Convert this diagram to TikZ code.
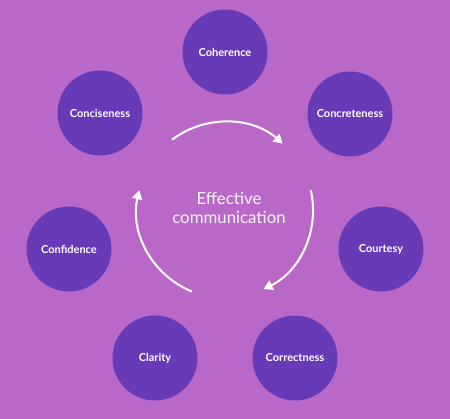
\documentclass[tikz,border=0pt]{standalone}
\usepackage{fontspec}
\setmainfont{Lato}
\usepackage{xcolor}
\usetikzlibrary{arrows.meta}

\definecolor{bgpurple}{HTML}{BA68C8}
\definecolor{deeppurple}{HTML}{673AB7}

\begin{document}
\begin{tikzpicture}[
      x=1pt, y=1pt,
      quality/.style={circle, fill=deeppurple, minimum size=85pt, inner sep=0pt,
        text=white, font=\fontsize{11}{13}\selectfont\bfseries},
      centretext/.style={align=center, text=white!92!bgpurple,
        font=\fontsize{16.8}{19.5}\selectfont},
      cyclearrow/.style={-{Triangle[length=9pt,width=10pt]}, line width=2pt,
        draw=white}
    ]
    % background
    \fill[bgpurple] (0,0) rectangle (450,419);
    \useasboundingbox (0,0) rectangle (450,419);

    \coordinate (hub) at (225,209);

    \node[quality] (coherence) at (225,367) {Coherence};
    \node[quality] (concreteness) at (350,305) {Concreteness};
    \node[quality] (courtesy) at (381,170) {Courtesy};
    \node[quality] (correctness) at (295,61) {Correctness};
    \node[quality] (clarity) at (155,61) {Clarity};
    \node[quality] (confidence) at (69,170) {Confidence};
    \node[quality] (conciseness) at (100,306) {Conciseness};

    \node[centretext] (effective) at (229,211) {Effective\\communication};

    % cycle around the centre
    \draw[cyclearrow] (hub) ++(127:88) arc[start angle=127, end angle=49, radius=88];
    \draw[cyclearrow] (hub) ++(13:88) arc[start angle=13, end angle=-64, radius=88];
    \draw[cyclearrow] (hub) ++(248:88) arc[start angle=248, end angle=167, radius=88];
  \end{tikzpicture}
\end{document}
